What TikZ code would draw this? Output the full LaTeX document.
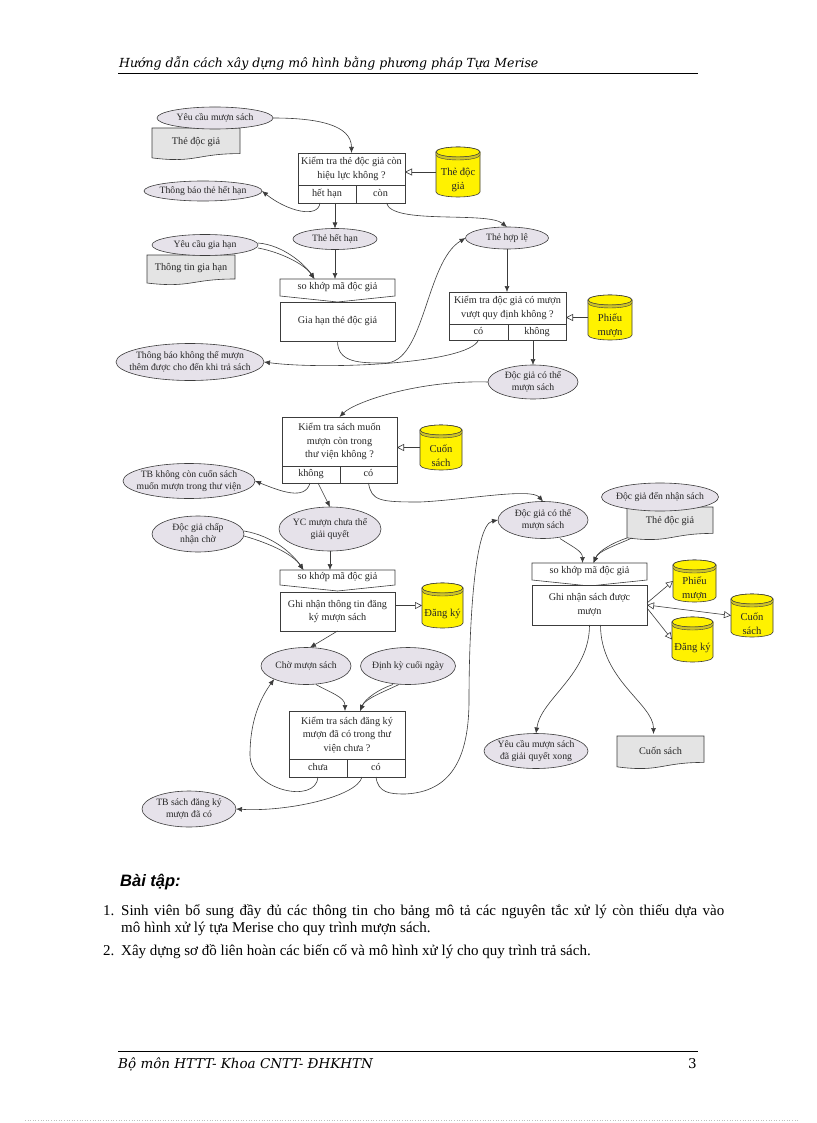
\documentclass[tikz,border=0pt]{standalone}
\usepackage{fontspec}
\setmainfont{Liberation Serif}
\newfontfamily\hdrfont{DejaVu Serif}
\newfontfamily\arialfont{Liberation Sans}
\usetikzlibrary{arrows.meta,calc,backgrounds,shapes.geometric}
\definecolor{ellfill}{RGB}{230,226,234}
\definecolor{docfill}{RGB}{228,228,228}
\definecolor{cylend}{RGB}{205,195,40}
\definecolor{ln}{RGB}{60,60,60}
\newcommand\dfont{\fontsize{10.2}{13.5}\selectfont}
\newcommand\efont{\fontsize{9.7}{12.5}\selectfont}
\newcommand\cfont{\fontsize{10.6}{14}\selectfont}
\newcommand\btext{\fontsize{15}{17}\selectfont}
\tikzset{
 ell/.style={ellipse, draw=ln, line width=0.6pt, fill=ellfill, inner sep=0pt, outer sep=0pt},
 bx/.style={rectangle, draw=ln, line width=0.6pt, fill=white, inner sep=0pt, outer sep=0pt, font=\dfont, align=center, text=black!85},
 cellbx/.style={bx, text height=7pt, text depth=2.5pt},
 plain/.style={rectangle, inner sep=0pt, outer sep=0pt, font=\dfont, align=center, text=black!85},
 conn/.style={draw=ln, line width=0.6pt, -{Latex[length=6pt,width=5pt]}},
 oconn/.style={draw=ln, line width=0.6pt, -{Triangle[open,length=7pt,width=7pt,fill=white]}},
 boconn/.style={draw=ln, line width=0.6pt, {Triangle[open,length=7pt,width=7pt,fill=white]}-{Triangle[open,length=7pt,width=7pt,fill=white]}},
}
\newcommand\ellnode[6]{\node[ell, minimum width=#4pt, minimum height=#5pt] (#1) at (#2,#3) {};
 \node[plain, font=\efont] (#1-t) at (#2,#3) {#6};}
\newcommand\bxnode[6]{\node[bx, minimum width={(#4-#2)*1pt}, minimum height={(#5-#3)*1pt}] (#1) at ({(#2+#4)/2},{(#3+#5)/2}) {#6};}
\newcommand\cellnode[6]{\node[cellbx, minimum width={(#4-#2)*1pt}, minimum height={(#5-#3)*1pt}] (#1) at ({(#2+#4)/2},{(#3+#5)/2}) {#6};}
\newcommand\sknode[5]{%
 \node[plain, minimum width={(#4-#2)*1pt}, minimum height={(#5-#3)*1pt}] (#1) at ({(#2+#4)/2},{(#3+#5)/2}) {so khớp mã độc giả};
 \begin{scope}[on background layer]
 \path[draw=ln, line width=0.6pt, fill=white] (#1.north west) -- (#1.north east) -- (#1.south east) -- ($(#1.south)+(0,6)$) -- (#1.south west) -- cycle;
 \end{scope}}
\newcommand\docnode[6]{%
 \node[plain, minimum width={(#4-#2)*1pt}, minimum height={(#5-#3)*1pt}] (#1) at ({(#2+#4)/2},{(#3+#5)/2-2}) {#6};
 \begin{scope}[on background layer]
 \path[draw=ln, line width=0.6pt, fill=docfill] (#2,#3) -- (#4,#3) -- (#4,{#3+0.8*(#5-#3)}) .. controls ({(#2+#4)/2},{#3+0.8*(#5-#3)}) and ({(#2+#4)/2},{#3+1.107*(#5-#3)}) .. (#2,{#3+0.934*(#5-#3)}) -- cycle;
 \end{scope}}
\newcommand\cylnode[6]{%
 \node[plain, font=\cfont, minimum width={(#4-#2)*1pt}, minimum height={(#5-#3-16)*1pt}] (#1) at ({(#2+#4)/2},{(#3+#5)/2+8}) {#6};
 \coordinate (#1-w) at (#2,{(#3+#5)/2});
 \begin{scope}[on background layer]
 \path[draw=ln, line width=0.6pt, fill=yellow] (#2,{#3+5}) -- (#2,{#5-5}) arc[start angle=180, end angle=0, x radius={(#4-#2)/2}, y radius=5] -- (#4,{#3+5}) arc[start angle=0, end angle=-180, x radius={(#4-#2)/2}, y radius=5] -- cycle;
 \path[draw=ln, line width=0.6pt, fill=yellow] ({(#2+#4)/2},{#3+5}) ellipse[x radius={(#4-#2)/2}, y radius=5];
 \path[draw=ln, line width=0.4pt, fill=cylend] (#2,{#3+5}) arc[start angle=180, end angle=0, x radius={(#4-#2)/2}, y radius=5] -- (#4,{#3+8}) arc[start angle=0, end angle=180, x radius={(#4-#2)/2}, y radius=5] -- cycle;
 \end{scope}}
\begin{document}
\begin{tikzpicture}[x=1pt,y=-1pt]
\useasboundingbox (0,0) rectangle (816,1123);
\begin{scope}[on background layer]
\fill[white] (0,0) rectangle (816,1123);
\end{scope}
% header and footer
\node[anchor=base west, font=\hdrfont\itshape\fontsize{12.5}{14}\selectfont, inner sep=0pt] (hdr) at (119,68) {Hướng dẫn cách xây dựng mô hình bằng phương pháp Tựa Merise};
\coordinate (hl) at (118,73); \coordinate (hr) at (698,73);
\draw[line width=0.9pt] (hl) -- (hr);
\coordinate (fl) at (118,1051); \coordinate (fr) at (698,1051);
\draw[line width=0.9pt] (fl) -- (fr);
\node[anchor=base west, font=\hdrfont\itshape\fontsize{13.5}{15}\selectfont, inner sep=0pt] (ftr) at (118,1068) {Bộ môn HTTT- Khoa CNTT- ĐHKHTN};
\node[anchor=base east, font=\hdrfont\fontsize{13.5}{15}\selectfont, inner sep=0pt] (pg) at (697,1068) {3};
\coordinate (dl) at (25,1120); \coordinate (dr) at (798,1120);
\draw[gray!50, dotted, line width=0.6pt] (dl) -- (dr);

% ---- top section ----
\docnode{d1}{152}{128}{240}{160}{Thẻ độc giả}
\ellnode{e1}{215}{118}{116}{22}{Yêu cầu mượn sách}
\bxnode{k1}{298}{153}{405}{185}{Kiểm tra thẻ độc giả còn\\hiệu lực không ?}
\cellnode{k1a}{298}{185}{356}{203}{hết hạn}
\cellnode{k1b}{356}{185}{405}{203}{còn}
\cylnode{cy1}{436}{147}{480}{197}{Thẻ độc\\giả}
\ellnode{e2}{203}{191}{118}{20}{Thông báo thẻ hết hạn}
\ellnode{e3}{335}{239}{84}{21}{Thẻ hết hạn}
\ellnode{e4}{507}{238}{83}{22}{Thẻ hợp lệ}
\docnode{d2}{147}{255}{235}{285}{Thông tin gia hạn}
\ellnode{e5}{205}{245}{106}{21}{Yêu cầu gia hạn}
\sknode{s1}{280}{279}{395}{296}
\bxnode{b1}{280}{302}{395}{341}{Gia hạn thẻ độc giả}
\bxnode{k2}{449}{292}{566}{324}{Kiểm tra độc giả có mượn\\vượt quy định không ?}
\cellnode{k2a}{449}{324}{508}{340}{có}
\cellnode{k2b}{508}{324}{566}{340}{không}
\cylnode{cy2}{588}{295}{632}{340}{Phiếu\\mượn}
\ellnode{e6}{533}{382}{90}{34}{Độc giả có thể\\mượn sách}
\ellnode{e7}{190}{362}{148}{37}{Thông báo không thể mượn\\thêm được cho đến khi trả sách}

% ---- middle section ----
\bxnode{k3}{282}{417}{397}{466}{Kiểm tra sách muốn\\mượn còn trong\\thư viện không ?}
\cellnode{k3a}{282}{466}{340}{483}{không}
\cellnode{k3b}{340}{466}{397}{483}{có}
\cylnode{cy3}{420}{425}{462}{470}{Cuốn\\sách}
\ellnode{e8}{189}{481}{132}{35}{TB không còn cuốn sách\\muốn mượn trong thư viện}
\ellnode{e9}{330}{529}{102}{44}{YC mượn chưa thể\\giải quyết}
\ellnode{e10}{198}{534}{92}{36}{Độc giả chấp\\nhận chờ}
\ellnode{e11}{543}{520}{90}{37}{Độc giả có thể\\mượn sách}
\docnode{d3}{627}{507}{713}{540}{Thẻ độc giả}
\ellnode{e12}{660}{497}{117}{28}{Độc giả đến nhận sách}
\sknode{s2}{280}{570}{395}{585}
\bxnode{b2}{280}{592}{395}{631}{Ghi nhận thông tin đăng\\ký mượn sách}
\cylnode{cy4}{422}{583}{463}{628}{Đăng ký}
\sknode{s3}{532}{563}{647}{580}
\bxnode{b3}{532}{585}{647}{625}{Ghi nhận sách được\\mượn}
\cylnode{cy5}{673}{560}{716}{602}{Phiếu\\mượn}
\cylnode{cy6}{731}{594}{773}{637}{Cuốn\\sách}
\cylnode{cy7}{672}{617}{713}{662}{Đăng ký}

% ---- lower section ----
\ellnode{e13}{306}{666}{90}{37}{Chờ mượn sách}
\ellnode{e14}{408}{666}{95}{37}{Định kỳ cuối ngày}
\bxnode{k4}{289}{711}{405}{759}{Kiểm tra sách đăng ký\\mượn đã có trong thư\\viện chưa ?}
\cellnode{k4a}{289}{759}{347}{777}{chưa}
\cellnode{k4b}{347}{759}{405}{777}{có}
\ellnode{e15}{189}{809}{94}{36}{TB sách đăng ký\\mượn đã có}
\ellnode{e16}{536}{751}{104}{35}{Yêu cầu mượn sách\\đã giải quyết xong}
\docnode{d4}{617}{736}{704}{769}{Cuốn sách}

% ---- connectors ----
\draw[conn] (e1.east) .. controls +(45,0) and +(0,-28) .. (k1.north);
\draw[oconn] (cy1-w) -- (cy1-w -| k1.east);
\draw[conn] ($(k1a.south)+(-7,0)$) .. controls +(-2,16) and +(25,20) .. (e2.east);
\draw[conn] ($(k1a.south)+(8,0)$) -- (e3.north);
\draw[conn] ($(k1b.south)+(6,0)$) .. controls +(5,22) and +(-20,-16) .. (e4.north);
\draw[conn] ($(e5.east)+(0,-2)$) .. controls +(25,2) and +(-10,-15) .. ($(s1.north)+(-23,0)$);
\draw[conn] ($(e5.east)+(0,3)$) .. controls +(22,4) and +(-10,-15) .. ($(s1.north)+(-23,0)$);
\draw[conn] (e3.south) -- (e3.south |- s1.north);
\draw[conn] (b1.south) .. controls +(0,22) and +(-25,0) .. (385,363) .. controls +(40,0) and +(-40,24) .. (e4.west);
\draw[conn] (e4.south) -- (e4.south |- k2.north);
\draw[oconn] (cy2-w) -- (cy2-w -| k2.east);
\draw[conn] (e6.north |- k2b.south) -- (e6.north);
\draw[conn] (k2a.south) .. controls +(-10,24) and +(60,8) .. (e7.east);
\draw[conn] (e6.west) .. controls +(-70,-2) and +(15,-15) .. (k3.north);
\draw[oconn] (cy3-w) -- (cy3-w -| k3.east);
\draw[conn] ($(k3a.south)+(-1,0)$) .. controls +(-5,18) and +(25,10) .. (e8.east);
\draw[conn] ($(k3a.south)+(7,0)$) -- (e9.north);
\draw[conn] (k3b.south) .. controls +(3,18) and +(-40,0) .. (420,502) .. controls +(45,-2) and +(-12,-14) .. (e11.north);
\draw[conn] ($(e10.east)+(0,-3)$) .. controls +(30,5) and +(-10,-15) .. ($(s2.north)+(-34,0)$);
\draw[conn] ($(e10.east)+(0,2)$) .. controls +(28,8) and +(-10,-15) .. ($(s2.north)+(-34,0)$);
\draw[conn] (e9.south) -- (e9.south |- s2.north);
\draw[oconn] (b2.east |- cy4-w) -- (cy4-w);
\draw[conn] (b2.south) -- ($(e13.north)+(4,0)$);
\draw[conn] ($(e13.south)+(10,0)$) .. controls +(14,8) and +(0,-14) .. ($(k4.north)+(-2,0)$);
\draw[conn] ($(e14.south)+(-15,0)$) .. controls +(-15,5) and +(5,-12) .. ($(k4.north)+(13,0)$);
\draw[conn] ($(e14.south)+(-9,0)$) .. controls +(-17,8) and +(5,-12) .. ($(k4.north)+(13,0)$);
\draw[conn] (k4a.south) .. controls +(-2,28) and +(0,35) .. (250,755) .. controls +(0,-40) and +(-10,14) .. (e13.south west);
\draw[conn] ($(k4b.south)+(-14,0)$) .. controls +(-5,20) and +(50,3) .. (e15.east);
\draw[conn] (k4b.south) .. controls +(2,16) and +(-15,0) .. (405,794) .. controls +(45,-2) and +(0,60) .. (469,700) .. controls +(0,-60) and +(-25,5) .. (e11.west);
\draw[conn] ($(e11.south)+(17,0)$) .. controls +(12,8) and +(0,-12) .. ($(s3.north)+(-7,0)$);
\draw[conn] ($(d3.south west)+(0,0)$) .. controls +(-15,5) and +(5,-12) .. ($(s3.north)+(4,0)$);
\draw[conn] ($(d3.south west)+(5,0)$) .. controls +(-18,8) and +(5,-12) .. ($(s3.north)+(4,0)$);
\draw[oconn] ($(b3.east)+(0,-2)$) -- (cy5-w);
\draw[boconn] (b3.east) -- (cy6-w);
\draw[oconn] ($(b3.east)+(0,3)$) -- (cy7-w);
\draw[conn] (b3.south) .. controls +(0,50) and +(5,-35) .. (e16.north);
\draw[conn] ($(b3.south)+(11,0)$) .. controls +(0,55) and +(0,-30) .. ($(d4.north)+(-7,0)$);

% ---- exercise text ----
\node[anchor=base west, inner sep=0pt, font=\arialfont\bfseries\itshape\fontsize{16.5}{18}\selectfont] (bt) at (120,886) {Bài tập:};
\node[anchor=base west, inner sep=0pt, font=\btext] (n1) at (103,915) {1.};
\node[anchor=base west, inner sep=0pt, font=\btext] (l1) at (121,915) {\makebox[603pt][s]{Sinh viên bổ sung đầy đủ các thông tin cho bảng mô tả các nguyên tắc xử lý còn thiếu dựa vào}};
\node[anchor=base west, inner sep=0pt, font=\btext] (l2) at (121,932) {mô hình xử lý tựa Merise cho quy trình mượn sách.};
\node[anchor=base west, inner sep=0pt, font=\btext] (n2) at (103,955) {2.};
\node[anchor=base west, inner sep=0pt, font=\btext] (l3) at (121,955) {Xây dựng sơ đồ liên hoàn các biến cố và mô hình xử lý cho quy trình trả sách.};
\end{tikzpicture}
\end{document}
